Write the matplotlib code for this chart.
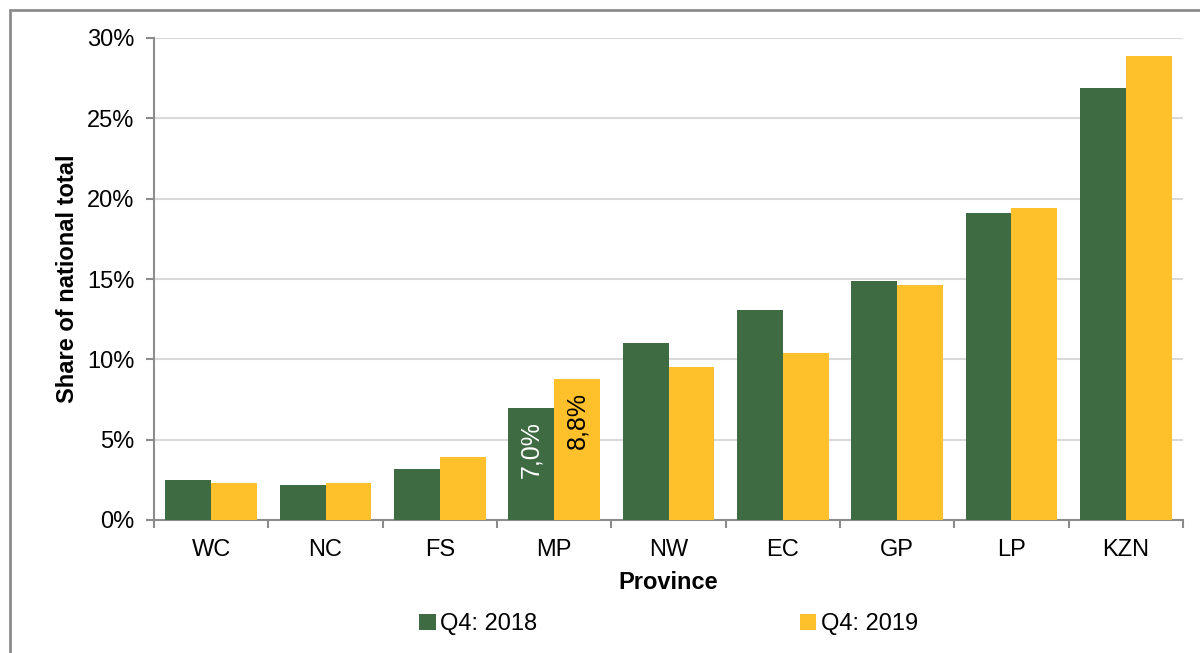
import numpy as np
import matplotlib.pyplot as plt
from matplotlib.patches import Rectangle
from matplotlib.ticker import FuncFormatter

provinces = ['WC', 'NC', 'FS', 'MP', 'NW', 'EC', 'GP', 'LP', 'KZN']
q4_2018 = [2.5, 2.2, 3.2, 7.0, 11.0, 13.1, 14.9, 19.1, 26.9]
q4_2019 = [2.3, 2.3, 3.9, 8.8, 9.5, 10.4, 14.6, 19.4, 28.9]

green = '#3e6b41'
yellow = '#fec12b'

plt.rcParams['font.family'] = ['Liberation Sans', 'DejaVu Sans']

fig = plt.figure(figsize=(12, 6.53), dpi=100)
ax = fig.add_axes([154/1200, 1-520/653, (1183-154)/1200, (520-38)/653])

# outer frame
fig.patches.append(Rectangle((10/1200, -0.01), 1.2, 1-10/653+0.01, transform=fig.transFigure,
                             fill=False, edgecolor='#8c8c8c', linewidth=2))

x = np.arange(len(provinces))
w = 0.4
ax.bar(x - w/2, q4_2018, w, color=green, label='Q4: 2018', zorder=3)
ax.bar(x + w/2, q4_2019, w, color=yellow, label='Q4: 2019', zorder=3)

# labels on the MP bars
i = provinces.index('MP')
ax.text(x[i] - w/2, q4_2018[i]/2 + 0.9, '7,0%', rotation=90, ha='center', va='center',
        color='white', fontsize=18, zorder=4)
ax.text(x[i] + w/2, q4_2019[i]/2 + 1.8, '8,8%', rotation=90, ha='center', va='center',
        color='black', fontsize=18, zorder=4)

ax.set_xlim(-0.5, len(provinces) - 0.5)
ax.set_ylim(0, 30)
ax.set_yticks(np.arange(0, 31, 5))
ax.yaxis.set_major_formatter(FuncFormatter(lambda v, p: '%d%%' % v))
ax.set_xticks(x)
ax.set_xticklabels(provinces)
ax.set_xticks(np.arange(-0.5, len(provinces)), minor=True)
ax.tick_params(axis='x', which='major', length=0, labelsize=17, pad=14)
ax.tick_params(axis='x', which='minor', length=6, color='#8c8c8c', width=1.5)
ax.tick_params(axis='y', which='major', length=6, color='#8c8c8c', width=1.5, labelsize=17, pad=8)

ax.grid(axis='y', color='#d9d9d9', linewidth=1.5, zorder=0)
for s in ['top', 'right']:
    ax.spines[s].set_visible(False)
for s in ['left', 'bottom']:
    ax.spines[s].set_color('#8c8c8c')
    ax.spines[s].set_linewidth(1.5)

ax.set_ylabel('Share of national total', fontweight='bold', fontsize=17, labelpad=6)
ax.set_xlabel('Province', fontweight='bold', fontsize=17, labelpad=7)

ax.legend(loc='center', bbox_to_anchor=(0.5, -0.216), ncol=2, frameon=False,
          fontsize=17, handlelength=0.7, handleheight=0.7, handletextpad=0.2,
          columnspacing=11.1)

fig.savefig('out.png', dpi=100)
